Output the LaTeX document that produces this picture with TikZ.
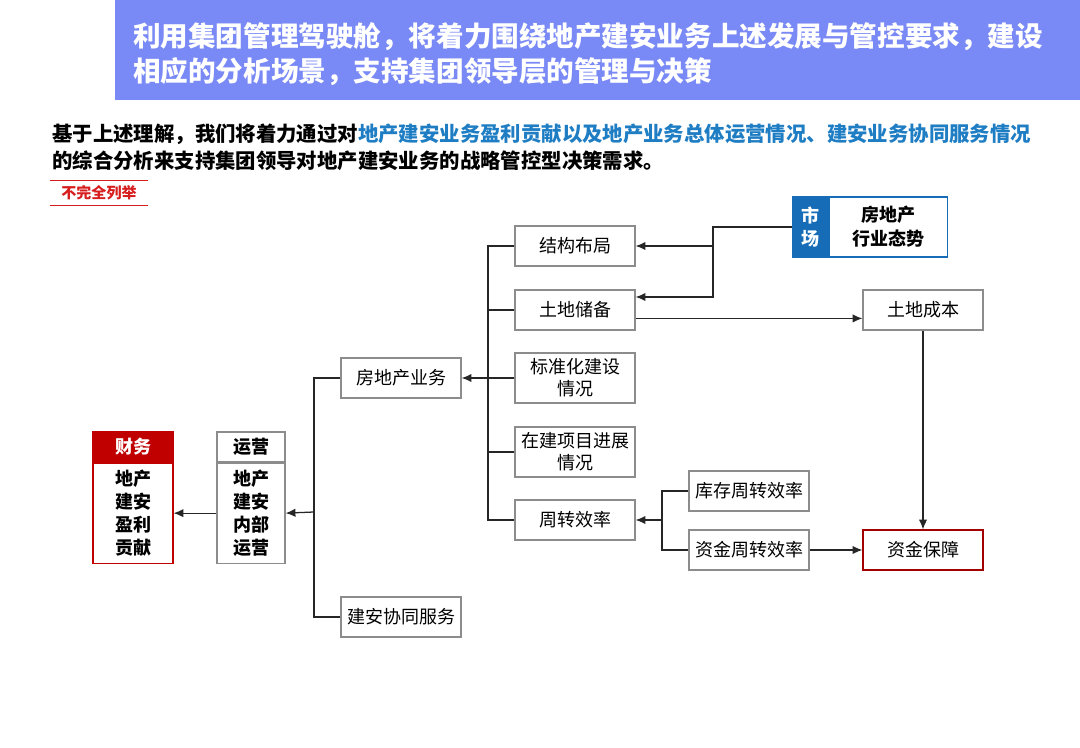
\documentclass[tikz,border=0pt]{standalone}
\usepackage{fontspec}
\setmainfont{Noto Sans CJK SC}
\usetikzlibrary{arrows.meta,positioning,calc}
\definecolor{barblue}{RGB}{121,137,245}
\definecolor{txtblue}{RGB}{30,125,195}
\definecolor{mkblue}{RGB}{22,108,182}
\definecolor{fired}{RGB}{192,0,0}
\definecolor{tagred}{RGB}{215,30,30}
\begin{document}
\begin{tikzpicture}[x=0.025cm,y=-0.025cm,>={Latex[length=7pt,width=6pt]},
box/.style={draw=black!45,line width=0.8pt,minimum width=3cm,minimum height=1cm,align=center,font=\fontsize{12.8}{15.5}\selectfont,inner sep=1pt},
tallbox/.style={box,minimum height=1.25cm},
cashbox/.style={box,draw=fired!85!black},
hd/.style={draw,line width=0.8pt,minimum height=0.75cm,font=\bfseries\fontsize{12.8}{15}\selectfont,inner sep=0pt},
bd/.style={draw,line width=0.8pt,minimum height=2.5cm,align=center,font=\bfseries\fontsize{12.8}{16.4}\selectfont,inner sep=0pt},
mkt/.style={line width=0.8pt,minimum height=1.5cm,align=center,font=\bfseries\fontsize{12.8}{17}\selectfont,inner sep=0pt},
flow/.style={->,line width=0.9pt,draw=black!85},
link/.style={line width=0.9pt,draw=black!85}]
\useasboundingbox (0,0) rectangle (1080,748);
\node[fill=barblue,anchor=north west,minimum width=24.125cm,minimum height=2.5cm,inner sep=0pt] (bar) at (115,0) {};
\node[anchor=west,align=left,text=white,font=\bfseries\fontsize{19.6}{24.9}\selectfont,inner sep=0pt] (ttl) at (133,54)
{利用集团管理驾驶舱，将着力围绕地产建安业务上述发展与管控要求，建设\\相应的分析场景，支持集团领导层的管理与决策};
\node[anchor=west,align=left,font=\bfseries\fontsize{14.5}{19.2}\selectfont,inner sep=0pt] (intro) at (52,147)
{基于上述理解，我们将着力通过对\textcolor{txtblue}{地产建安业务盈利贡献以及地产业务总体运营情况、建安业务协同服务情况}\\的综合分析来支持集团领导对地产建安业务的战略管控型决策需求。};
\node[text=tagred,font=\bfseries\fontsize{10.7}{12}\selectfont,minimum width=2.45cm,minimum height=0.6cm,inner sep=0pt] (tag) at (99,193) {不完全列举};
\draw[tagred,line width=0.8pt] (tag.north west) -- (tag.north east) (tag.south west) -- (tag.south east);
\node[hd,fill=fired,draw=fired,text=white,minimum width=2cm] (cwh) at (133,447) {财务};
\node[bd,draw=fired,minimum width=2cm,below=0pt of cwh] (cwb) {地产\\建安\\盈利\\贡献};
\node[hd,draw=black!45,minimum width=1.7cm] (yyh) at (251,447) {运营};
\node[bd,draw=black!45,minimum width=1.7cm,below=0pt of yyh] (yyb) {地产\\建安\\内部\\运营};
\node[box] (fdc) at (401,378) {房地产业务};
\node[box] (jaxt) at (401,617) {建安协同服务};
\node[box] (jgbj) at (575,246) {结构布局};
\node[box] (tdchu) at (575,310) {土地储备};
\node[tallbox] (bzh) at (575,378) {标准化建设\\情况};
\node[tallbox] (zjxm) at (575,452) {在建项目进展\\情况};
\node[box] (zzxl) at (575,520) {周转效率};
\node[box] (kczz) at (749,491) {库存周转效率};
\node[box] (zjzz) at (749,550) {资金周转效率};
\node[box] (tdchb) at (923,310) {土地成本};
\node[cashbox] (zjbz) at (923,550) {资金保障};
\node[mkt,fill=mkblue,draw=mkblue,text=white,minimum width=0.875cm] (sc) at (810.5,227) {市\\场};
\node[mkt,draw=mkblue,minimum width=2.95cm,right=0pt of sc] (hyts) {房地产\\行业态势};
\draw[flow] (yyb.west) -- (cwb.east);
\coordinate (t1) at (314,512);
\draw[link] (fdc.west) -| (t1) |- (jaxt.west);
\draw[flow] (t1) -- (yyb.east);
\coordinate (t2) at (488,378);
\draw[link] (jgbj.west) -| (t2) |- (zzxl.west);
\foreach \n in {tdchu,bzh,zjxm} \draw[link] (\n.west) -- (\n.west -| t2);
\draw[flow] (t2) -- (fdc.east);
\coordinate (mk) at (713,297);
\draw[flow] (sc.west) -| (mk) -- (tdchu.east |- mk);
\draw[flow] (jgbj.east -| mk) -- (jgbj.east);
\draw[flow] ([yshift=-6pt]tdchu.east) -- ([yshift=-6pt]tdchb.west);
\draw[flow] (tdchb.south) -- (zjbz.north);
\coordinate (t3) at (662,520);
\draw[link] (kczz.west) -| (t3) |- (zjzz.west);
\draw[flow] (t3) -- (zzxl.east);
\draw[flow] (zjzz.east) -- (zjbz.west);
\end{tikzpicture}
\end{document}
